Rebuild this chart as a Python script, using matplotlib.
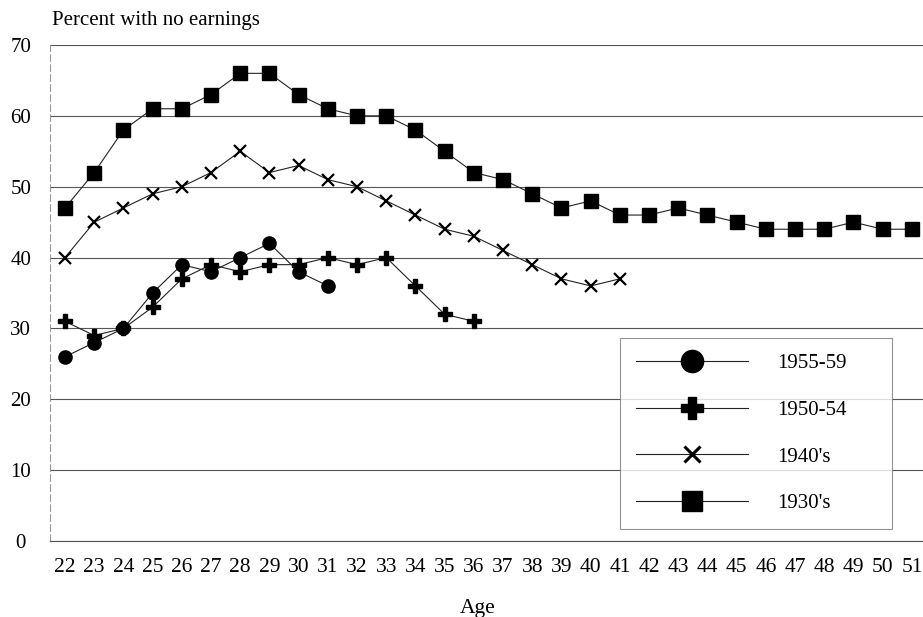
import matplotlib.pyplot as plt
from matplotlib.lines import Line2D

plt.rcParams["font.family"] = ["Liberation Serif", "DejaVu Serif"]

AGES_30S = list(range(22, 52))
PCT_30S = [47, 52, 58, 61, 61, 63, 66, 66, 63, 61, 60, 60, 58, 55, 52,
           51, 49, 47, 48, 46, 46, 47, 46, 45, 44, 44, 44, 45, 44, 44]

AGES_40S = list(range(22, 42))
PCT_40S = [40, 45, 47, 49, 50, 52, 55, 52, 53, 51, 50, 48, 46, 44, 43,
           41, 39, 37, 36, 37]

AGES_5054 = list(range(22, 37))
PCT_5054 = [31, 29, 30, 33, 37, 39, 38, 39, 39, 40, 39, 40, 36, 32, 31]

AGES_5559 = list(range(22, 32))
PCT_5559 = [26, 28, 30, 35, 39, 38, 40, 42, 38, 36]

LABELS = ["1955-59", "1950-54", "1940's", "1930's"]
Y_TICKS = [0, 10, 20, 30, 40, 50, 60, 70]
X_TICKS = list(range(22, 52))

W, H = 923, 617
fig = plt.figure(figsize=(W / 100, H / 100), dpi=100)
ax = fig.add_axes([50 / W, 76 / H, 873 / W, 496 / H])

line_kw = dict(color="#222222", linewidth=0.8, markerfacecolor="black",
               markeredgecolor="black")

ax.plot(AGES_30S, PCT_30S, marker="s", markersize=9.5, **line_kw)
ax.plot(AGES_40S, PCT_40S, marker="x", markersize=8, markeredgewidth=1.6,
        **line_kw)
ax.plot(AGES_5054, PCT_5054, marker="P", markersize=10, **line_kw)
ax.plot(AGES_5559, PCT_5559, marker="o", markersize=9.5, **line_kw)

ax.set_xlim(21.486, 51.38)
ax.set_ylim(0, 70)
ax.set_xticks(X_TICKS)
ax.set_yticks(Y_TICKS)
ax.tick_params(axis="x", length=0, pad=12, labelsize=15.5)
ax.tick_params(axis="y", length=0, pad=21, labelsize=15)
for lab in ax.get_yticklabels():
    lab.set_horizontalalignment("center")

ax.grid(axis="y", color="#555555", linewidth=0.8)
ax.set_axisbelow(True)
for side in ("top", "right"):
    ax.spines[side].set_visible(False)
ax.spines["bottom"].set_color("#555555")
ax.spines["bottom"].set_linewidth(0.8)
ax.spines["left"].set_color("#999999")
ax.spines["left"].set_linewidth(0.8)
ax.spines["left"].set_linestyle((0, (6, 3)))

handles = [
    Line2D([], [], marker="o", markersize=16, **line_kw),
    Line2D([], [], marker="P", markersize=16, **line_kw),
    Line2D([], [], marker="x", markersize=12, markeredgewidth=2.2, **line_kw),
    Line2D([], [], marker="s", markersize=15, **line_kw),
]
leg = ax.legend(handles, LABELS, loc="upper left",
                bbox_to_anchor=(0.653, 0.052, 0.3115, 0.357),
                mode="expand", fontsize=15, handlelength=5.4,
                handletextpad=1.4, labelspacing=1.3, borderpad=0.75,
                borderaxespad=0, frameon=True, fancybox=False, numpoints=1)
leg.get_frame().set_edgecolor("#777777")
leg.get_frame().set_linewidth(0.8)

fig.text(52 / W, 1 - 25 / H, "Percent with no earnings", fontsize=15,
         va="baseline", ha="left")
fig.text(478 / W, 1 - 613 / H, "Age", fontsize=15.5, va="baseline",
         ha="center")

fig.savefig("out.png", dpi=100)
